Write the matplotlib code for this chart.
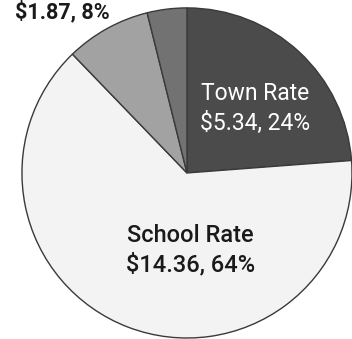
import matplotlib
matplotlib.use('Agg')
import matplotlib.pyplot as plt

# Tax rate breakdown (last slice's label sits above the visible area)
names = ['Town Rate', 'School Rate', '', '']
amounts = [5.34, 14.36, 1.87, 0.87]
percents = [24, 64, 8, 4]
colors = ['#4b4b4b', '#f3f3f3', '#a2a2a2', '#727272']

plt.rcParams['font.family'] = ['Roboto', 'DejaVu Sans']

fig = plt.figure(figsize=(3.52, 3.39), dpi=100)
ax = fig.add_axes([0, 0, 1, 1])

ax.pie(amounts, colors=colors, startangle=90, counterclock=False,
       wedgeprops=dict(edgecolor='#3a3a3a', linewidth=1.0))

# crop the view the way the scan does
ax.set_xlim(-1.133, 1.0)
ax.set_ylim(-1.006, 1.048)
ax.set_aspect('auto')
ax.axis('off')

ax.text(0.41, 0.39, f"{names[0]}\n${amounts[0]:.2f}, {percents[0]}%",
        color='white', fontsize=16.5, ha='center', va='center',
        linespacing=1.35)
ax.text(0.02, -0.47, f"{names[1]}\n${amounts[1]:.2f}, {percents[1]}%",
        color='#1a1a1a', fontsize=17, fontweight='medium',
        ha='center', va='center', linespacing=1.3)
ax.text(-0.755, 1.046, f"${amounts[2]:.2f}, {percents[2]}%",
        color='#1a1a1a', fontsize=15.5, fontweight='bold',
        ha='center', va='top')

fig.savefig('out.png', dpi=100)
